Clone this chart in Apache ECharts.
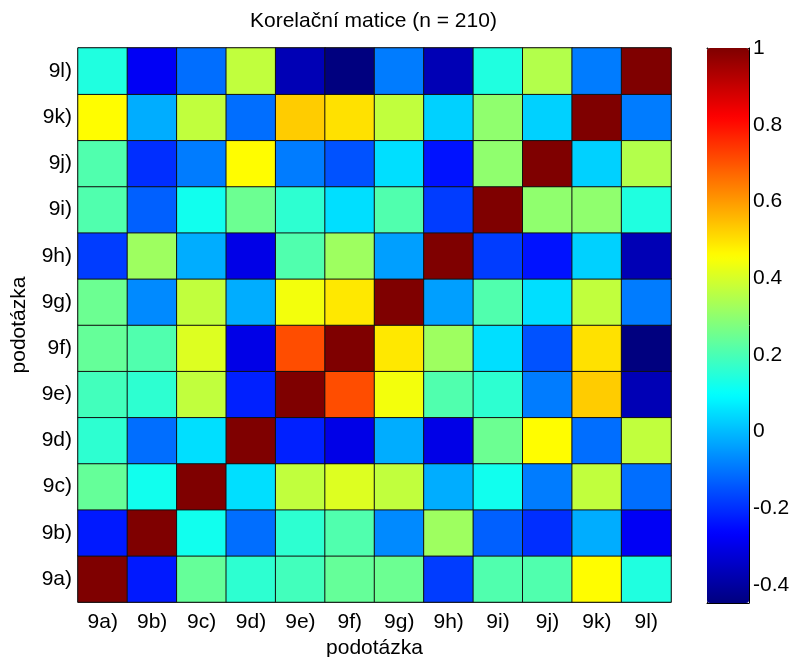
<!DOCTYPE html>
<html>
<head>
<meta charset="utf-8">
<script src="https://cdn.jsdelivr.net/npm/echarts@6/dist/echarts.min.js"></script>
<style>
  html, body { margin: 0; padding: 0; background: #fff; }
  #chart { width: 791px; height: 657px; }
</style>
</head>
<body>
<div id="chart"></div>
<script>
// podotázky (osa x zleva doprava, osa y zdola nahoru)
const cats = ['9a)', '9b)', '9c)', '9d)', '9e)', '9f)', '9g)', '9h)', '9i)', '9j)', '9k)', '9l)'];

// korelační matice, řádek i = cats[i], sloupec j = cats[j]
const corr = [
  [1, -0.23, 0.24, 0.16, 0.19, 0.24, 0.25, -0.18, 0.21, 0.21, 0.46, 0.14],
  [-0.23, 1, 0.12, -0.11, 0.16, 0.21, -0.07, 0.32, -0.13, -0.2, -0.02, -0.28],
  [0.24, 0.12, 1, 0.05, 0.37, 0.41, 0.37, -0.02, 0.12, -0.09, 0.37, -0.11],
  [0.16, -0.11, 0.05, 1, -0.22, -0.3, -0.02, -0.3, 0.25, 0.46, -0.11, 0.37],
  [0.19, 0.16, 0.37, -0.22, 1, 0.71, 0.44, 0.21, 0.16, -0.09, 0.53, -0.37],
  [0.24, 0.21, 0.41, -0.3, 0.71, 1, 0.49, 0.32, 0.05, -0.15, 0.5, -0.447],
  [0.25, -0.07, 0.37, -0.02, 0.44, 0.49, 1, -0.04, 0.21, 0.05, 0.37, -0.09],
  [-0.18, 0.32, -0.02, -0.3, 0.21, 0.32, -0.04, 1, -0.18, -0.24, 0.03, -0.37],
  [0.21, -0.13, 0.12, 0.25, 0.16, 0.05, 0.21, -0.18, 1, 0.3, 0.3, 0.14],
  [0.21, -0.2, -0.09, 0.46, -0.09, -0.15, 0.05, -0.24, 0.3, 1, 0.03, 0.35],
  [0.46, -0.02, 0.37, -0.11, 0.53, 0.5, 0.37, 0.03, 0.3, 0.03, 1, -0.09],
  [0.14, -0.28, -0.11, 0.37, -0.37, -0.447, -0.09, -0.37, 0.14, 0.35, -0.09, 1]
];

// rozsah barevné škály a popisky colorbaru
const cMin = -0.447;
const cMax = 1;
const cbTicks = [-0.4, -0.2, 0, 0.2, 0.4, 0.6, 0.8, 1];

// jet
const jet = ['#00007F', '#0000FF', '#007FFF', '#00FFFF', '#7FFF7F', '#FFFF00', '#FF7F00', '#FF0000', '#7F0000'];

const FONT = 'Liberation Sans';
const FS = 21;

const cells = [];
corr.forEach((row, i) => {
  row.forEach((v, j) => cells.push([j, i, v]));
});

const chart = echarts.init(document.getElementById('chart'), null, { renderer: 'canvas' });

chart.setOption({
  animation: false,
  backgroundColor: '#fff',
  textStyle: { fontFamily: FONT, color: '#000' },
  title: {
    text: 'Korelační matice (n = 210)',
    left: 250,
    top: 11,
    padding: 0,
    textStyle: { fontFamily: FONT, fontSize: FS, fontWeight: 'normal', color: '#000' }
  },
  grid: [
    { left: 78, top: 48, width: 593, height: 554, show: true, borderColor: '#444', borderWidth: 1, containLabel: false, outerBoundsMode: 'none' },
    { left: 707, top: 48, width: 42, height: 555, show: false, containLabel: false, outerBoundsMode: 'none' }
  ],
  xAxis: [
    {
      type: 'category',
      gridIndex: 0,
      data: cats,
      name: 'podotázka',
      nameLocation: 'middle',
      nameGap: 33,
      nameTextStyle: { fontFamily: FONT, fontSize: FS, color: '#000' },
      axisLine: { show: true, lineStyle: { color: '#444', width: 1 } },
      axisTick: { show: false },
      axisLabel: { fontFamily: FONT, fontSize: FS, color: '#000', margin: 10 },
      splitLine: { show: false }
    },
    {
      type: 'value', gridIndex: 1, min: 0, max: 1, position: 'bottom',
      axisLine: { show: true, onZero: false, lineStyle: { color: '#000' } },
      axisTick: { show: false }, axisLabel: { show: false }, splitLine: { show: false }
    },
    {
      type: 'value', gridIndex: 1, min: 0, max: 1, position: 'top',
      axisLine: { show: true, onZero: false, lineStyle: { color: '#000' } },
      axisTick: { show: false }, axisLabel: { show: false }, splitLine: { show: false }
    }
  ],
  yAxis: [
    {
      type: 'category',
      gridIndex: 0,
      data: cats,
      name: 'podotázka',
      nameLocation: 'middle',
      nameRotate: 90,
      nameGap: 48,
      nameTextStyle: { fontFamily: FONT, fontSize: FS, color: '#000' },
      axisLine: { show: true, lineStyle: { color: '#444', width: 1 } },
      axisTick: { show: false },
      axisLabel: { fontFamily: FONT, fontSize: FS, color: '#000', margin: 6 },
      splitLine: { show: false }
    },
    {
      type: 'value', gridIndex: 1, min: cMin, max: cMax, position: 'right',
      axisLine: { show: true, onZero: false, lineStyle: { color: '#000' } },
      axisTick: { show: true, inside: true, length: 5, customValues: cbTicks, lineStyle: { color: '#000' } },
      axisLabel: {
        show: true, customValues: cbTicks, fontFamily: FONT, fontSize: FS, color: '#000', margin: 4,
        formatter: v => String(+v.toFixed(1))
      },
      splitLine: { show: false }
    },
    {
      type: 'value', gridIndex: 1, min: cMin, max: cMax, position: 'left',
      axisLine: { show: true, onZero: false, lineStyle: { color: '#000' } },
      axisTick: { show: true, inside: true, length: 5, customValues: cbTicks, lineStyle: { color: '#000' } },
      axisLabel: { show: false },
      splitLine: { show: false }
    }
  ],
  visualMap: {
    type: 'continuous',
    seriesIndex: 0,
    dimension: 2,
    min: cMin,
    max: cMax,
    calculable: false,
    left: 707,
    top: 48,
    padding: 0,
    itemWidth: 42,
    itemHeight: 555,
    text: null,
    showLabel: false,
    inRange: { color: jet }
  },
  series: [
    {
      type: 'heatmap',
      xAxisIndex: 0,
      yAxisIndex: 0,
      data: cells,
      itemStyle: { borderColor: '#111', borderWidth: 1 },
      emphasis: { disabled: true },
      label: { show: false }
    }
  ]
});
</script>
</body>
</html>
